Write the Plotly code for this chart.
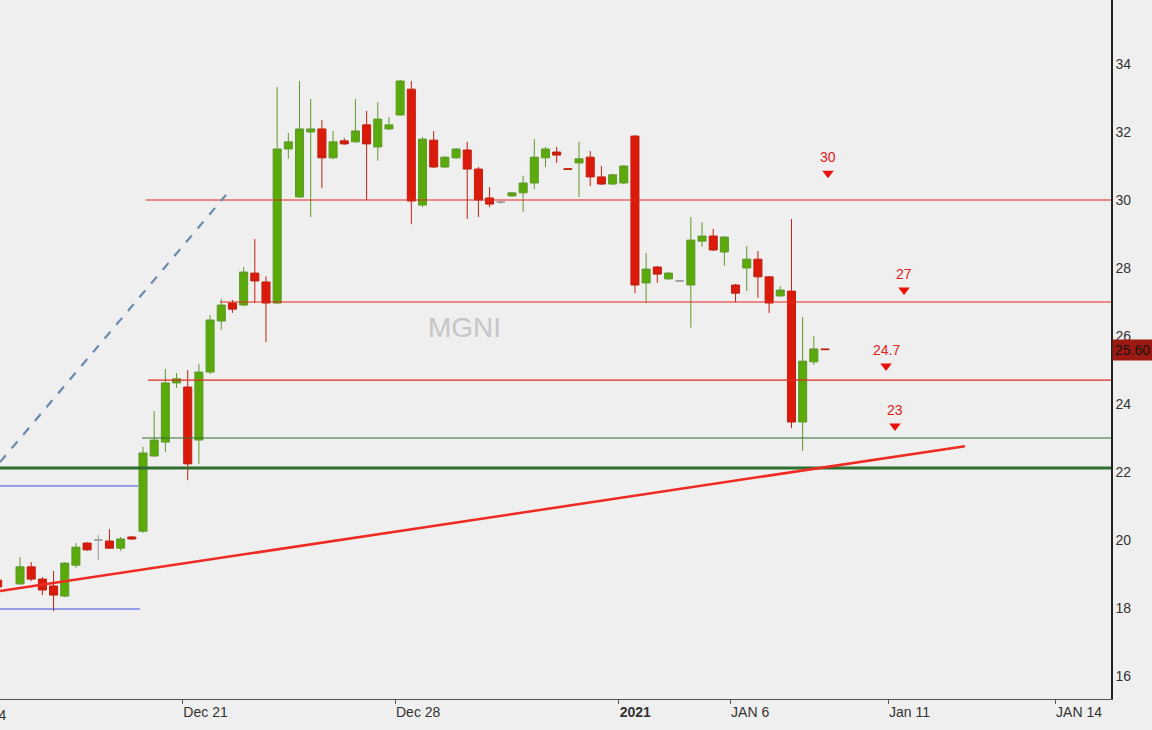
import numpy as np
import plotly.graph_objects as go

# ---------------- data (prices) ----------------
# bar slot index (one slot = one intraday bar); slot 1 is an empty gap
slots = [0] + list(range(2, 75))

opens = [18.82, 18.71, 19.21, 18.85, 18.65, 18.35, 19.26, 19.91, 20.00, 19.97,
         19.76, 20.09, 20.26, 22.47, 22.88, 24.62, 24.50, 22.94, 24.94, 26.44,
         26.97, 26.91, 27.85, 27.59, 26.97, 31.50, 30.09, 32.00, 32.09, 31.24,
         31.74, 31.71, 32.21, 31.56, 32.09, 32.50, 33.26, 29.85, 31.76, 30.97,
         31.24, 31.47, 30.91, 30.06, 29.94, 30.12, 30.21, 30.50, 31.24, 31.41,
         30.92, 31.09, 31.26, 30.68, 30.47, 30.50, 31.88, 27.56, 28.03, 27.68,
         27.62, 27.50, 28.79, 28.94, 28.47, 27.50, 28.00, 28.26, 27.74, 27.18,
         27.32, 23.47, 25.24, 25.62]
highs = [18.88, 19.50, 19.35, 18.91, 19.09, 19.35, 19.91, 19.94, 20.15, 20.32,
         20.09, 20.12, 22.74, 23.79, 25.03, 24.91, 25.00, 25.18, 26.62, 27.09,
         27.06, 28.03, 28.85, 27.76, 33.32, 31.97, 33.50, 32.97, 32.35, 32.03,
         31.82, 32.97, 32.62, 32.88, 32.44, 33.53, 33.50, 31.85, 32.03, 31.29,
         31.53, 31.71, 30.97, 30.38, 29.97, 30.24, 30.71, 31.79, 31.56, 31.56,
         30.92, 31.71, 31.44, 31.00, 30.77, 31.03, 31.91, 28.44, 28.06, 27.88,
         27.64, 29.50, 29.35, 29.15, 28.94, 27.53, 28.65, 28.50, 27.76, 27.47,
         29.44, 26.56, 26.00, 25.62]
lows = [18.56, 18.68, 18.79, 18.38, 17.91, 18.32, 19.18, 19.68, 19.41, 19.74,
        19.68, 20.00, 20.21, 22.44, 22.59, 24.47, 21.76, 22.24, 24.88, 26.18,
        26.68, 26.88, 26.97, 25.82, 26.94, 31.21, 30.06, 29.50, 30.35, 31.20,
        31.62, 31.68, 30.00, 31.15, 32.06, 32.47, 29.29, 29.79, 30.94, 30.94,
        31.21, 29.44, 29.50, 29.79, 29.88, 30.09, 29.65, 30.32, 30.97, 31.09,
        30.90, 30.09, 30.41, 30.44, 30.44, 30.47, 27.26, 26.97, 27.56, 27.65,
        27.60, 26.24, 28.62, 28.50, 28.06, 27.00, 27.32, 27.12, 26.68, 27.15,
        23.29, 22.62, 25.15, 25.60]
closes = [18.62, 19.21, 18.85, 18.53, 18.38, 19.32, 19.79, 19.71, 20.00, 19.76,
          20.03, 20.03, 22.56, 22.94, 24.62, 24.74, 22.24, 24.94, 26.47, 26.91,
          26.79, 27.88, 27.62, 26.97, 31.50, 31.71, 32.09, 32.09, 31.24, 31.71,
          31.65, 32.03, 31.65, 32.38, 32.21, 33.50, 29.97, 31.79, 30.97, 31.26,
          31.50, 30.91, 30.00, 29.88, 29.94, 30.21, 30.50, 31.26, 31.50, 31.32,
          30.90, 31.21, 30.68, 30.47, 30.74, 31.00, 27.50, 27.97, 27.82, 27.85,
          27.62, 28.82, 28.94, 28.53, 28.91, 27.26, 28.26, 27.74, 26.97, 27.35,
          23.47, 25.26, 25.62, 25.60]

last_price = 25.60
symbol = "MGNI"

# x-axis date ticks (in bar slots)
tick_slots = [-3.40, 16.52, 35.54, 55.55, 65.51, 79.64, 94.58]
tick_labels = ["Dec 14", "Dec 21", "Dec 28", "<b>2021</b>", "JAN 6", "Jan 11", "JAN 14"]
y_ticks = [16, 18, 20, 22, 24, 26, 28, 30, 32, 34]

# horizontal alert levels
level_prices = [30, 27, 24.7, 23]
level_start = [13.27, 19.89, 13.45, 12.91]
level_colors = ["#e2281f", "#e2281f", "#e2281f", "#2f702f"]
level_text = ["30", "27", "24.7", "23"]
alert_slot = [74.27, 81.07, 79.46, 80.26]
alert_price = [30.79, 27.35, 25.12, 23.35]

support_price = 22.12
blue_prices = [21.59, 17.97]
blue_end = [12.55, 12.73]
trend_slots = [0.21, 86.52]
trend_prices = [18.50, 22.76]
dash_slots = [0.21, 20.43]
dash_prices = [22.29, 30.15]

X_RANGE = [0.21, 99.58]
Y_RANGE = [15.324, 35.882]

# ---------------- styling ----------------
BG = "#efefef"
GREEN = "#5aaa0c"
GREEN_W = "#5f9a28"
RED = "#dc1a0c"
RED_W = "#c0200f"
GRAY = "#9a9a9a"

o = np.array(opens); h = np.array(highs); l = np.array(lows); c = np.array(closes)
x = np.array(slots, dtype=float)
doji = o == c
main = ~doji

fig = go.Figure()
fig.add_trace(go.Candlestick(
    x=x[main], open=o[main], high=h[main], low=l[main], close=c[main],
    increasing=dict(fillcolor=GREEN, line=dict(color=GREEN_W, width=1)),
    decreasing=dict(fillcolor=RED, line=dict(color=RED_W, width=1)),
    showlegend=False, hoverinfo="skip"))
fig.add_trace(go.Candlestick(
    x=x[doji], open=o[doji], high=h[doji], low=l[doji], close=c[doji],
    increasing=dict(fillcolor=GRAY, line=dict(color=GRAY, width=1)),
    decreasing=dict(fillcolor=GRAY, line=dict(color=GRAY, width=1)),
    showlegend=False, hoverinfo="skip"))

shapes = []
for p, s0, col in zip(level_prices, level_start, level_colors):
    shapes.append(dict(type="line", xref="x", yref="y", x0=s0, x1=X_RANGE[1],
                       y0=p, y1=p, line=dict(color=col, width=1.2)))
shapes.append(dict(type="line", xref="x", yref="y", x0=X_RANGE[0], x1=X_RANGE[1],
                   y0=support_price, y1=support_price,
                   line=dict(color="#2f6e2f", width=3)))
for p, s1 in zip(blue_prices, blue_end):
    shapes.append(dict(type="line", xref="x", yref="y", x0=X_RANGE[0], x1=s1,
                       y0=p, y1=p, line=dict(color="#3a4de0", width=1)))
shapes.append(dict(type="line", xref="x", yref="y",
                   x0=trend_slots[0], x1=trend_slots[1],
                   y0=trend_prices[0], y1=trend_prices[1],
                   line=dict(color="#ee2a22", width=2.5)))
shapes.append(dict(type="line", xref="x", yref="y",
                   x0=dash_slots[0], x1=dash_slots[1],
                   y0=dash_prices[0], y1=dash_prices[1],
                   line=dict(color="#6a8aab", width=2.2, dash="dash")))

# alert triangles
fig.add_trace(go.Scatter(x=alert_slot, y=alert_price, mode="markers",
                         marker=dict(symbol="triangle-down", size=10, color="#e8100a"),
                         showlegend=False, hoverinfo="skip"))

annotations = []
for s, p, t in zip(alert_slot, alert_price, level_text):
    annotations.append(dict(x=s, y=p, xref="x", yref="y", text=t, showarrow=False,
                            yshift=16, font=dict(size=14, color="#e0201a",
                                                 family="Liberation Sans, Arial")))
annotations.append(dict(x=41.8, y=26.24, xref="x", yref="y", text=symbol,
                        showarrow=False,
                        font=dict(size=28, color="#c6c6c6", family="Liberation Sans, Arial")))
annotations.append(dict(x=1, y=last_price, xref="paper", yref="y", text="25.60",
                        xanchor="left", xshift=1, showarrow=False, bgcolor="#9c1a12",
                        borderpad=2,
                        font=dict(size=14, color="#141414", family="Liberation Sans, Arial")))
# partly visible first tick label (cut by the left edge, as in the reference)
span = X_RANGE[1] - X_RANGE[0]
annotations.append(dict(x=(tick_slots[0] - X_RANGE[0]) / span, y=0, xref="paper", yref="paper",
                        xanchor="left", yanchor="top", yshift=-6, text=tick_labels[0],
                        showarrow=False,
                        font=dict(size=14, color="#333", family="Liberation Sans, Arial")))

fig.update_layout(
    width=1152, height=730,
    margin=dict(l=0, r=41, t=0, b=31),
    paper_bgcolor=BG, plot_bgcolor=BG,
    boxgap=0.28, boxgroupgap=0,
    shapes=shapes, annotations=annotations,
    font=dict(family="Liberation Sans, Arial", size=14, color="#333"),
    xaxis=dict(range=X_RANGE, rangeslider=dict(visible=False), showgrid=False,
               zeroline=False, showline=True, linecolor="#555", linewidth=1,
               tickmode="array", tickvals=tick_slots[1:], ticktext=tick_labels[1:],
               ticks="outside", ticklen=4, tickcolor="#555",
               ticklabelposition="outside right",
               tickfont=dict(size=14, color="#333")),
    yaxis=dict(range=Y_RANGE, side="right", showgrid=False, zeroline=False,
               showline=True, linecolor="#222", linewidth=1.5,
               tickmode="array", tickvals=y_ticks, ticks="",
               tickfont=dict(size=14, color="#333")),
)

fig.write_html("out.html")
